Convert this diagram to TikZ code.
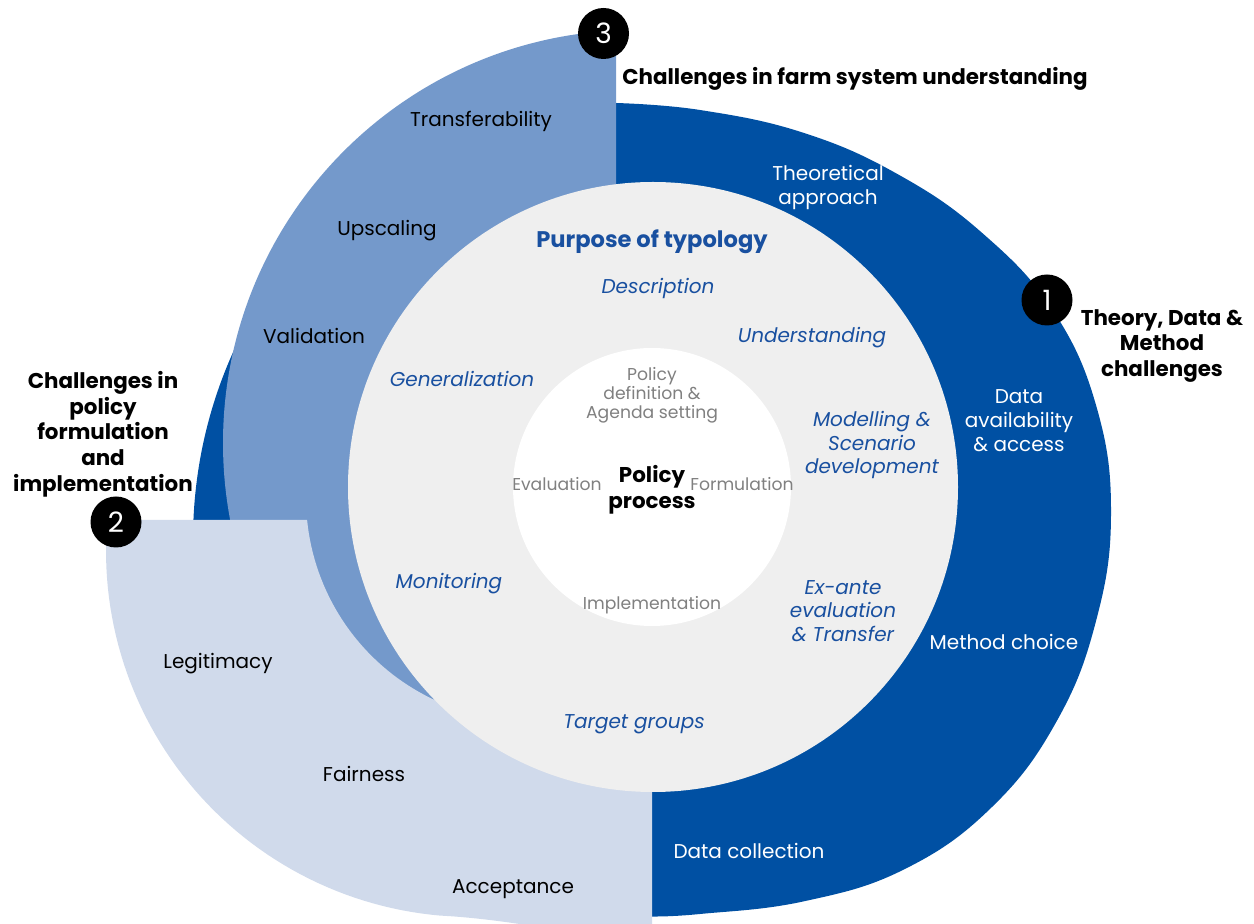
\documentclass[tikz,border=0pt]{standalone}
\usepackage{fontspec}
\setmainfont{Poppins}
\definecolor{dblue}{RGB}{0,80,163}
\definecolor{mblue}{RGB}{116,153,203}
\definecolor{lblue}{RGB}{208,218,235}
\definecolor{cgray}{RGB}{239,239,239}
\definecolor{tblue}{RGB}{25,80,160}
\definecolor{tgray}{RGB}{128,128,128}
\tikzset{
  lab/.style={font=\fontsize{10}{12}\selectfont, text=black, inner sep=0pt},
  wlab/.style={font=\fontsize{10}{12}\selectfont, text=white, align=center, inner sep=0pt},
  ilab/.style={font=\fontsize{10}{11.75}\selectfont\itshape, text=tblue, align=center, inner sep=0pt},
  glab/.style={font=\fontsize{8.6}{9.5}\selectfont, text=tgray, align=center, inner sep=0pt},
  head/.style={font=\fontsize{10.7}{12.85}\selectfont\bfseries, align=center, inner sep=0pt},
  num/.style={circle, fill=black, minimum size=25.5pt, inner sep=0pt, text=white, font=\fontsize{14}{14}\selectfont}
}
\begin{document}
\begin{tikzpicture}[x=0.5pt,y=-0.5pt]
\useasboundingbox (0,0) rectangle (1254,924);
\clip (0,0) rectangle (1254,924);
% dark blue main band
\fill[dblue] (610,103) -- plot[smooth,tension=0.7] coordinates {(616.2,103) (700,110) (802.5,132.5) (897,173.8) (982.1,232.9) (1053.3,311) (1097,408.6) (1111,515) (1096,621.1) (1056.8,721) (992,807) (904.5,869.2) (803.5,901.4) (700,914) (652,916.5)} -- (652,600) -- (610,600) -- cycle;
% dark blue left sliver
\begin{scope}
  \clip (0,0) rectangle (400,530);
  \fill[dblue] (652,540) circle[radius=229.5pt];
\end{scope}
% medium blue
\begin{scope}
  \clip (0,0) rectangle (616,924);
  \fill[mblue] (636,443) circle[radius=206.5pt];
\end{scope}
% light blue
\fill[lblue] (107.3,520) -- (307.1,520)
  -- plot[domain=174.34:90,samples=50,variable=\t] ({529+223*cos(\t)},{498+223*sin(\t)})
  -- (652,721) -- (652,950)
  .. controls (570,930) and (490,918) .. (440.1,915.6)
  -- plot[domain=95:184.9,samples=60,variable=\t] ({472+366*cos(\t)},{551+366*sin(\t)})
  -- cycle;
% inner circles
\fill[cgray] (653,487) circle[radius=152.5pt];
\fill[white] (652,487) circle[radius=69.5pt];
% number markers
\node[num] (n3) at (603.5,33.5) {3};
\node[num] (n1) at (1047,300) {1};
\node[num] (n2) at (116,522) {2};
% headings
\node[head, anchor=base west] (h3) at (622,85) {Challenges in farm system understanding};
\node[head] (h1) at (1162,346) {Theory, Data \&\\Method\\challenges};
\node[head] (h2) at (103,434) {Challenges in\\policy\\formulation\\and\\implementation};
% ring labels
\node[lab, anchor=base] (transf) at (481,127) {Transferability};
\node[lab, anchor=base] (upsc) at (387,236) {Upscaling};
\node[lab, anchor=base] (valid) at (314,344) {Validation};
\node[lab, anchor=base] (legit) at (218,669) {Legitimacy};
\node[lab, anchor=base] (fair) at (364,782) {Fairness};
\node[lab, anchor=base] (accept) at (513,893) {Acceptance};
\node[wlab] (theo) at (828,187) {Theoretical\\approach};
\node[wlab] (dataav) at (1019,421) {Data\\availability\\\& access};
\node[wlab, anchor=base] (meth) at (1004,650) {Method choice};
\node[wlab, anchor=base] (datacol) at (749,859) {Data collection};
% purpose
\node[head, font=\fontsize{11.3}{12}\selectfont\bfseries, text=tblue, anchor=base] (purp) at (652,248) {Purpose of typology};
\node[ilab, anchor=base] (desc) at (658,294) {Description};
\node[ilab, anchor=base] (under) at (812,343) {Understanding};
\node[ilab, anchor=base] (gen) at (462,387) {Generalization};
\node[ilab] (model) at (872,445) {Modelling \&\\Scenario\\development};
\node[ilab] (exante) at (843,611) {Ex-ante\\evaluation\\\& Transfer};
\node[ilab, anchor=base] (monit) at (449,589) {Monitoring};
\node[ilab, anchor=base] (target) at (634,729) {Target groups};
% policy process
\node[glab] (pdef) at (652,395) {Policy\\definition \&\\Agenda setting};
\node[glab, anchor=base] (eval) at (557,491) {Evaluation};
\node[glab, anchor=base] (form) at (742,491) {Formulation};
\node[glab, anchor=base] (impl) at (652,610) {Implementation};
\node[head] (pp) at (652,490) {Policy\\process};
\end{tikzpicture}
\end{document}
